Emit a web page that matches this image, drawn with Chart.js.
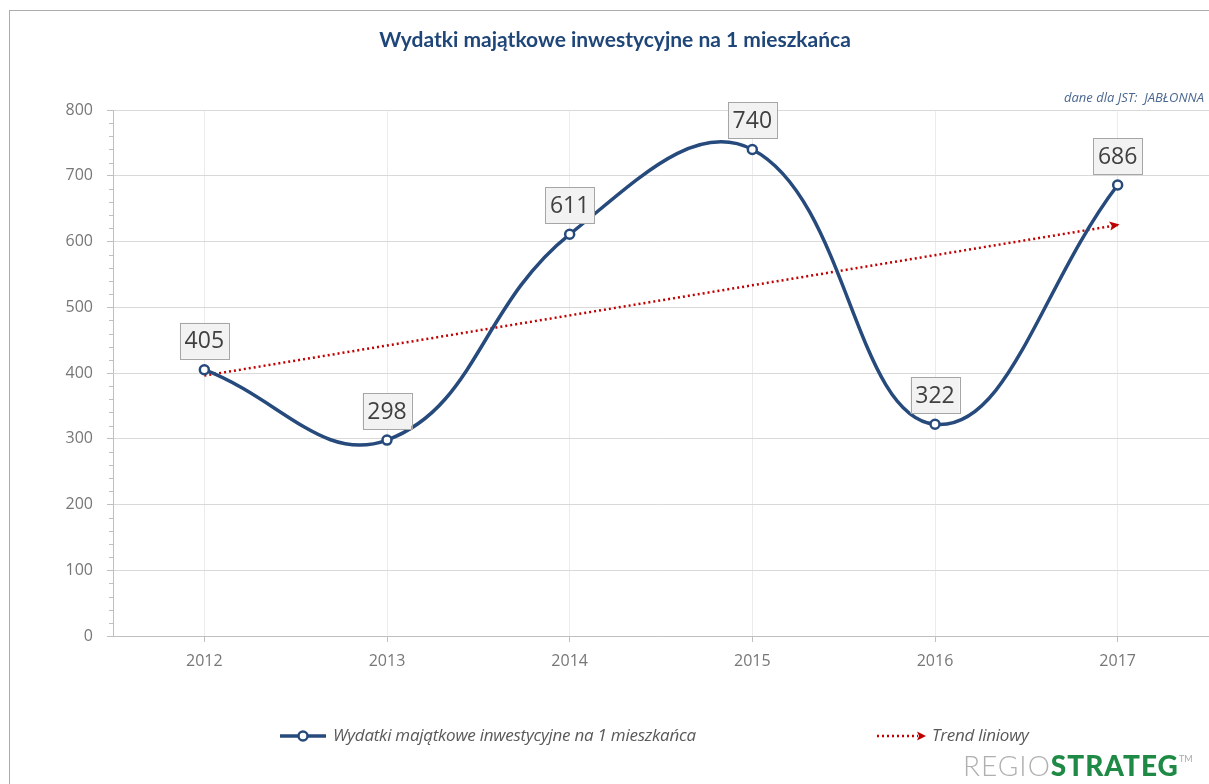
<!DOCTYPE html>
<html lang="pl">
<head>
<meta charset="utf-8">
<title>Wydatki majątkowe inwestycyjne na 1 mieszkańca</title>
<script src="https://cdn.jsdelivr.net/npm/chart.js@4.4.1/dist/chart.umd.min.js"></script>
<style>
    html, body { margin: 0; padding: 0; background: #fff; }
    #wrap { position: relative; width: 1209px; height: 784px; overflow: hidden; font-family: Lato, "Open Sans", sans-serif; }
    #frame { position: absolute; left: 9px; top: 10px; right: -2px; bottom: -2px; border-left: 1px solid #acacac; border-top: 1px solid #acacac; }
    #chart { position: absolute; left: 0; top: 0; }
    #title { position: absolute; left: 0; width: 1230px; top: 26px; text-align: center; font-weight: bold; font-size: 21px; color: #1f4678; }
    #note { position: absolute; right: 5px; top: 88px; font-style: italic; font-size: 13px; color: #4a6790; font-family: "Open Sans", sans-serif; }
    .leg { position: absolute; top: 723px; font-style: italic; font-size: 17px; color: #595959; font-family: "Open Sans", sans-serif; letter-spacing: -0.25px; }
    .leg canvas { position: absolute; top: 1px; }
    #logo { position: absolute; left: 963px; top: 748px; font-size: 28px; letter-spacing: 1px; }
    #logo .a { font-weight: 300; color: #b0b0b0; }
    #logo .b { font-weight: 900; color: #1e8a45; }
    #logo sup { font-size: 9px; color: #a8a8a8; font-weight: 400; vertical-align: 14px; letter-spacing: 0; }
</style>
</head>
<body>
<div id="wrap">
    <div id="frame"></div>
    <canvas id="chart" width="1216" height="784"></canvas>
    <div id="title">Wydatki majątkowe inwestycyjne na 1 mieszkańca</div>
    <div id="note">dane dla JST:&nbsp; JABŁONNA</div>
    <div class="leg" id="leg1" style="left:280px;"><canvas id="ic1" width="48" height="24"></canvas><span style="margin-left:53px;">Wydatki majątkowe inwestycyjne na 1 mieszkańca</span></div>
    <div class="leg" id="leg2" style="left:876px;"><canvas id="ic2" width="52" height="24"></canvas><span style="margin-left:56px;">Trend liniowy</span></div>
    <div id="logo"><span class="a">REGIO</span><span class="b">STRATEG</span><sup>TM</sup></div>
</div>
<script>
var years = ['2012', '2013', '2014', '2015', '2016', '2017'];
var spending = [405, 298, 611, 740, 322, 686];
// linear trend, first and last year only
var trend = [396, null, null, null, null, 625];
var yTicks = [0, 100, 200, 300, 400, 500, 600, 700, 800];

var lineBlue = '#264a7c';
var trendRed = '#c00000';
var axisFont = { family: '"Open Sans", sans-serif', size: 16 };

// value boxes above the points
var valueBoxes = {
    id: 'valueBoxes',
    afterDatasetsDraw: function (chart) {
        var ctx = chart.ctx;
        var meta = chart.getDatasetMeta(0);
        ctx.save();
        ctx.font = '23px "Open Sans", sans-serif';
        ctx.textAlign = 'center';
        ctx.textBaseline = 'middle';
        meta.data.forEach(function (pt, i) {
            var txt = String(spending[i]);
            var w = 49, h = 36;
            var x = pt.x - w / 2, y = pt.y - 11 - h;
            ctx.fillStyle = '#f2f2f2';
            ctx.fillRect(x, y, w, h);
            ctx.strokeStyle = '#a6a6a6';
            ctx.lineWidth = 1;
            ctx.strokeRect(Math.round(x) + 0.5, Math.round(y) + 0.5, w, h);
            ctx.fillStyle = '#404040';
            ctx.fillText(txt, pt.x, y + h / 2 + 1);
        });
        ctx.restore();
    }
};

// arrow head at the end of the trend line, minor ticks on the value axis
var extras = {
    id: 'extras',
    afterDatasetsDraw: function (chart) {
        var ctx = chart.ctx;
        var pts = chart.getDatasetMeta(1).data;
        var a = pts[0], b = pts[pts.length - 1];
        var ang = Math.atan2(b.y - a.y, b.x - a.x);
        ctx.save();
        ctx.translate(b.x - 2, b.y);
        ctx.rotate(ang);
        ctx.fillStyle = trendRed;
        ctx.beginPath();
        ctx.moveTo(4, 0);
        ctx.lineTo(-6, -4.5);
        ctx.lineTo(-4, 0);
        ctx.lineTo(-6, 4.5);
        ctx.closePath();
        ctx.fill();
        ctx.restore();
    },
    afterDraw: function (chart) {
        var ctx = chart.ctx;
        var ys = chart.scales.y;
        var xs = chart.scales.x;
        ctx.save();
        ctx.strokeStyle = '#bfbfbf';
        ctx.lineWidth = 1;
        ctx.beginPath();
        for (var v = 0; v <= 800; v += 20) {
            if (v % 100 === 0) continue;
            var py = Math.round(ys.getPixelForValue(v)) + 0.5;
            ctx.moveTo(xs.left - 4, py);
            ctx.lineTo(xs.left, py);
        }
        ctx.stroke();
        ctx.restore();
    }
};

var ctx = document.getElementById('chart');
var myChart = new Chart(ctx, {
    type: 'line',
    data: {
        labels: years,
        datasets: [{
            label: 'Wydatki majątkowe inwestycyjne na 1 mieszkańca',
            data: spending,
            borderColor: lineBlue,
            borderWidth: 3.5,
            tension: 0.42,
            pointRadius: 4.5,
            pointBorderWidth: 2.5,
            pointBackgroundColor: '#ffffff',
            pointBorderColor: lineBlue,
            order: 1
        }, {
            label: 'Trend liniowy',
            data: trend,
            spanGaps: true,
            borderColor: trendRed,
            borderWidth: 2.5,
            borderDash: [2, 3],
            pointRadius: 0,
            tension: 0,
            order: 2
        }]
    },
    options: {
        responsive: false,
        animation: false,
        layout: { padding: { left: 0, top: 110, right: 1, bottom: 0 } },
        plugins: {
            legend: { display: false },
            tooltip: { enabled: false }
        },
        scales: {
            x: {
                offset: true,
                grid: {
                    offset: false,
                    color: '#ececec',
                    tickColor: '#bfbfbf',
                    tickLength: 6
                },
                border: { color: '#bfbfbf' },
                ticks: {
                    color: '#777777',
                    padding: 10,
                    font: axisFont
                },
                afterFit: function (s) { s.height = 148; }
            },
            y: {
                min: 0,
                max: 800,
                afterBuildTicks: function (s) {
                    s.ticks = yTicks.map(function (v) { return { value: v }; });
                },
                grid: {
                    color: '#d9d9d9',
                    tickColor: '#bfbfbf',
                    tickLength: 6
                },
                border: { color: '#bfbfbf' },
                ticks: {
                    color: '#777777',
                    padding: 14,
                    font: axisFont
                },
                afterFit: function (s) { s.width = 113; }
            }
        }
    },
    plugins: [valueBoxes, extras]
});

// legend icons
var c1 = document.getElementById('ic1').getContext('2d');
c1.strokeStyle = lineBlue;
c1.lineWidth = 3.5;
c1.beginPath(); c1.moveTo(0, 12); c1.lineTo(46, 12); c1.stroke();
c1.fillStyle = '#fff';
c1.lineWidth = 2.5;
c1.beginPath(); c1.arc(23, 12, 4.5, 0, Math.PI * 2); c1.fill(); c1.stroke();

var c2 = document.getElementById('ic2').getContext('2d');
c2.strokeStyle = trendRed;
c2.lineWidth = 2.5;
c2.setLineDash([2, 3]);
c2.beginPath(); c2.moveTo(1, 12); c2.lineTo(42, 12); c2.stroke();
c2.fillStyle = trendRed;
c2.beginPath(); c2.moveTo(50, 12); c2.lineTo(41, 7.5); c2.lineTo(43, 12); c2.lineTo(41, 16.5); c2.closePath(); c2.fill();
</script>
</body>
</html>
